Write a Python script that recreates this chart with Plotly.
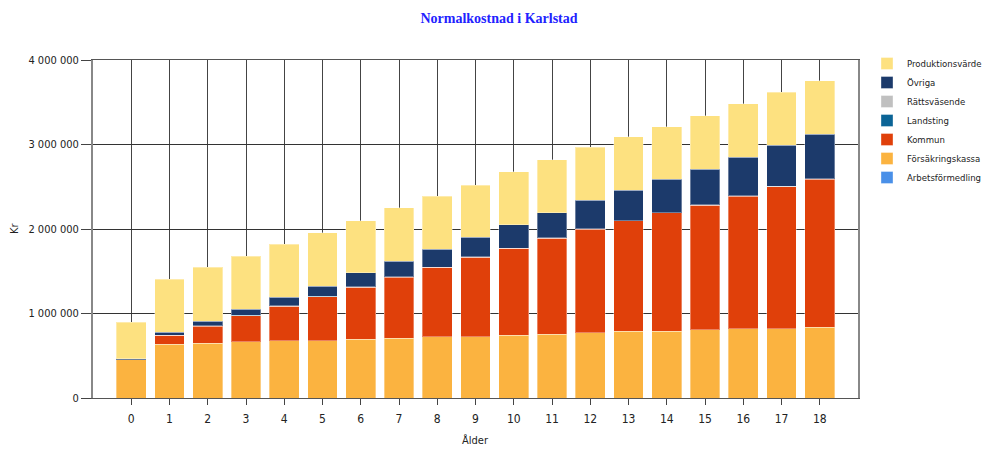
import plotly.graph_objects as go

ages = list(range(19))

arbetsformedling = [0] * 19
forsakringskassa = [450000, 635000, 650000, 667000, 680000, 680000, 695000, 710000, 725000, 725000,
                    742000, 757000, 773000, 789000, 789000, 805000, 820000, 820000, 837000]
kommun = [0, 105000, 200000, 307000, 405000, 520000, 615000, 720000, 820000, 940000,
          1028000, 1133000, 1227000, 1306000, 1401000, 1475000, 1570000, 1680000, 1753000]
landsting = [3000] * 19
rattsvasende = [2000] * 19
ovriga = [12000, 31000, 55000, 74000, 100000, 120000, 165000, 185000, 210000, 230000,
          275000, 295000, 335000, 360000, 395000, 425000, 455000, 485000, 525000]
produktionsvarde = [431000, 629000, 635000, 627000, 630000, 631000, 615000, 630000, 630000, 620000,
                    630000, 630000, 630000, 630000, 620000, 630000, 630000, 630000, 635000]

y_tickvals = [0, 1000000, 2000000, 3000000, 4000000]
y_ticktext = ["0", "1 000 000", "2 000 000", "3 000 000", "4 000 000"]

series = [
    ("Arbetsförmedling", arbetsformedling, "#4A90E8"),
    ("Försäkringskassa", forsakringskassa, "#FBB340"),
    ("Kommun", kommun, "#E0400A"),
    ("Landsting", landsting, "#0B6496"),
    ("Rättsväsende", rattsvasende, "#C0C0C0"),
    ("Övriga", ovriga, "#1C3A6B"),
    ("Produktionsvärde", produktionsvarde, "#FDE180"),
]

narrow = "DejaVu Sans Condensed, Liberation Sans Narrow, Arial Narrow, sans-serif"

# The page places the figure 8px from the top-left, so the figure is sized to fit.
W, H = 982, 442
ML, MR, MT, MB = 85, 132, 52, 52
PW, PH = W - ML - MR, H - MT - MB

fig = go.Figure()
for name, vals, color in series:
    fig.add_trace(go.Bar(
        x=ages, y=vals, name=name,
        marker=dict(color=color, line=dict(color="rgba(255,255,255,0.35)", width=1)),
        width=0.78,
    ))

fig.update_layout(
    barmode="stack",
    width=W, height=H,
    paper_bgcolor="white", plot_bgcolor="white",
    margin=dict(l=ML, r=MR, t=MT, b=MB, autoexpand=False),
    title=dict(text="<b>Normalkostnad i Karlstad</b>", x=0.5, xanchor="center",
               y=1 - 10 / H, yanchor="middle", yref="container",
               font=dict(family="Liberation Serif, Times New Roman, serif", size=14, color="#2222FF")),
    font=dict(family=narrow, size=11, color="#222"),
    legend=dict(traceorder="reversed", x=1 + 9 / PW, xanchor="left", y=1 + 11 / PH, yanchor="top",
                font=dict(family=narrow, size=9.5, color="#222"), tracegroupgap=0,
                itemwidth=30, bgcolor="rgba(0,0,0,0)"),
    annotations=[
        dict(text="Kr", xref="paper", yref="paper", x=(6 - ML) / PW, y=0.5,
             xanchor="center", yanchor="middle", textangle=-90, showarrow=False,
             font=dict(family=narrow, size=11, color="#222")),
        dict(text="Ålder", xref="paper", yref="paper", x=0.5, y=-42 / PH,
             xanchor="center", yanchor="middle", showarrow=False,
             font=dict(family=narrow, size=11, color="#222")),
    ],
)

fig.update_xaxes(
    range=[-1, 19], tickmode="array", tickvals=ages, ticktext=[str(a) for a in ages],
    showgrid=True, gridcolor="#444", gridwidth=1,
    showline=True, linecolor="#555", linewidth=1, mirror=True,
    ticks="outside", ticklen=6, tickcolor="#444", ticklabelstandoff=4,
    tickfont=dict(family=narrow, size=12, color="#222"),
    automargin=False,
)
fig.update_yaxes(
    range=[0, 4000000], tickmode="array", tickvals=y_tickvals, ticktext=y_ticktext,
    showgrid=True, gridcolor="#333", gridwidth=1,
    showline=True, linecolor="#888", linewidth=2, mirror=True,
    ticks="outside", ticklen=10, tickcolor="#444",
    tickfont=dict(family=narrow, size=11, color="#222"),
    zeroline=False, automargin=False,
)

fig.write_html("out.html")
